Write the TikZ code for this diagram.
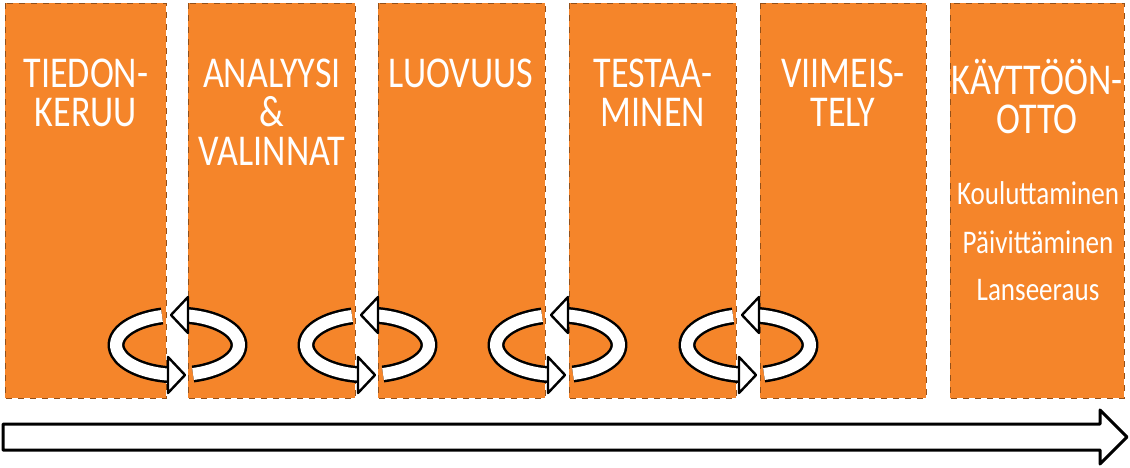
\documentclass[tikz,border=0pt]{standalone}
\usepackage{fontspec}
\setmainfont{Carlito}[FakeStretch=0.82]
\definecolor{orng}{HTML}{F5852A}
\tikzset{
  phase/.style={fill=orng,draw=orng!60!black,dashed,line width=0.3pt},
  ttl/.style={text=white,font=\fontsize{22}{19.5}\selectfont,align=center,anchor=north,inner sep=0pt},
  sub/.style={text=white,font=\fontsize{16.5}{14}\selectfont,anchor=center,inner sep=0pt},
}
\newcommand{\cycl}[2]{%
  \begin{scope}[shift={(#1,#2)}]
   \draw[line width=8.5pt,black] (-15,-29) arc[start angle=105,end angle=262,x radius=62,y radius=-30];
   \draw[line width=6pt,white] (-15,-29) arc[start angle=105,end angle=262,x radius=62,y radius=-30];
   \draw[line width=8.5pt,black] (16,29) arc[start angle=-75,end angle=80,x radius=62,y radius=-30];
   \draw[line width=6pt,white] (16,29) arc[start angle=-75,end angle=80,x radius=62,y radius=-30];
   \draw[fill=white,line width=1.2pt,line join=round] (-9,12) -- (8,30) -- (-9,48) -- cycle;
   \draw[fill=white,line width=1.2pt,line join=round] (11,-12) -- (-6,-30) -- (11,-48) -- cycle;
  \end{scope}}
\begin{document}
\begin{tikzpicture}[x=0.5pt,y=-0.5pt]
\useasboundingbox (0,0) rectangle (1130,467);
\path[phase] (5,3) rectangle (166,398);
\path[phase] (188,3) rectangle (355,398);
\path[phase] (378,3) rectangle (545,398);
\path[phase] (569,3) rectangle (736,398);
\path[phase] (760,3) rectangle (926,398);
\path[phase] (950,3) rectangle (1124,398);
\node[ttl] (t1) at (86,59) {TIEDON-\\KERUU};
\node[ttl] (t2) at (272,59) {ANALYYSI\\\&\\VALINNAT};
\node[ttl] (t3) at (461,59) {LUOVUUS};
\node[ttl] (t4) at (653,59) {TESTAA-\\MINEN};
\node[ttl] (t5) at (843,59) {VIIMEIS-\\TELY};
\node[ttl] (t6) at (1037,59) {KÄYTTÖÖN-\\OTTO};
\node[sub] (s1) at (1038,193) {Kouluttaminen};
\node[sub] (s2) at (1038,242) {Päivittäminen};
\node[sub] (s3) at (1038,290) {Lanseeraus};
\cycl{177}{345}
\cycl{367}{345}
\cycl{557}{345}
\cycl{748}{345}
\draw[fill=white,line width=1.5pt,line join=round] (3,424) -- (1100,424) -- (1100,410) -- (1127,437) -- (1100,464) -- (1100,450) -- (3,450) -- cycle;
\end{tikzpicture}
\end{document}
